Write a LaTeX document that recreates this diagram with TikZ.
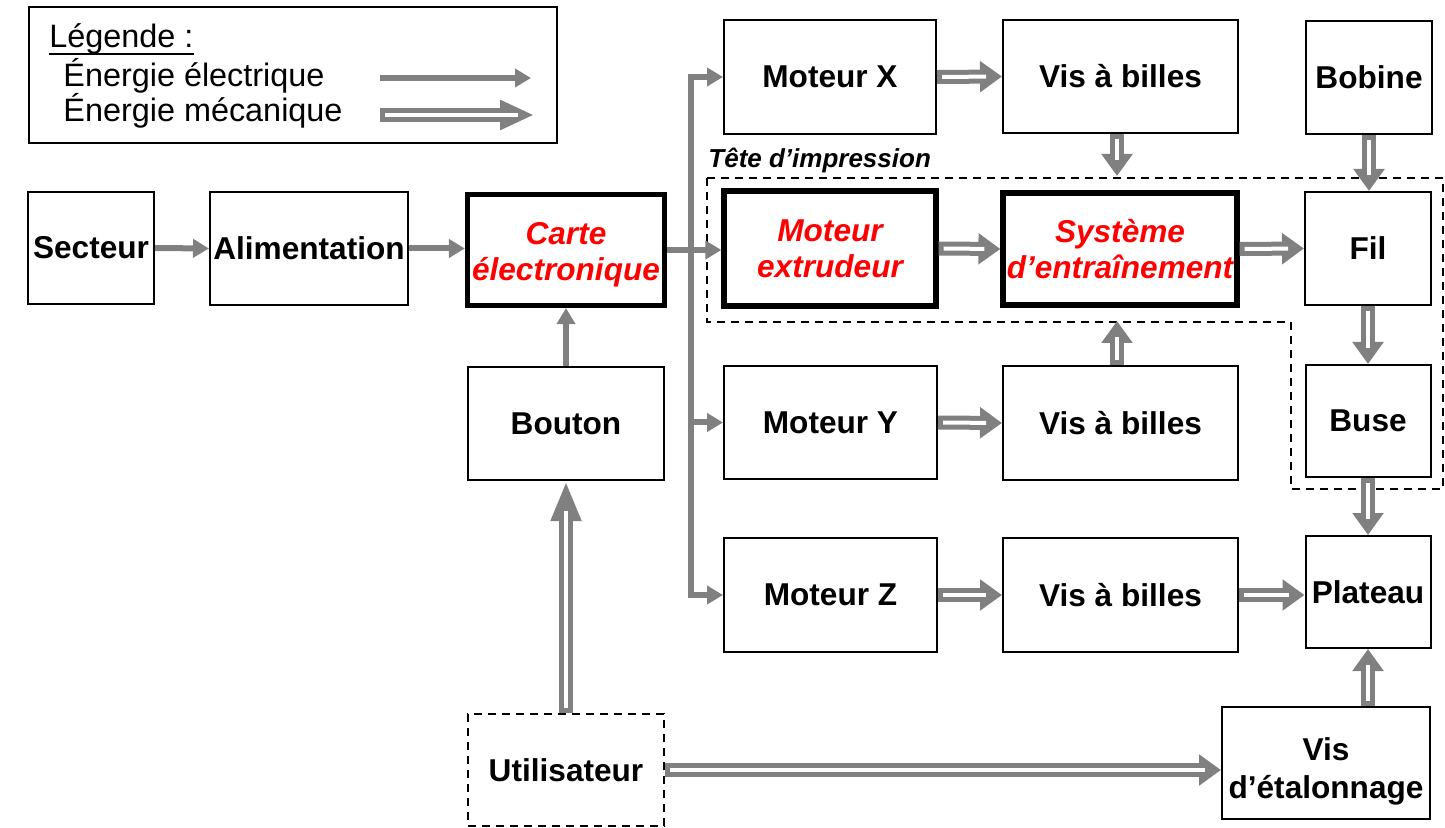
\documentclass[tikz,border=0pt]{standalone}
\usepackage{fontspec}
\setmainfont{Liberation Sans}
\usetikzlibrary{arrows.meta}
\definecolor{ag}{HTML}{808080}
\definecolor{rd}{HTML}{FF0000}
\begin{document}
\begin{tikzpicture}[x=0.5pt,y=-0.5pt,
  box/.style={draw, line width=1pt, inner sep=0pt, align=center, font=\fontsize{15.8}{18}\selectfont\bfseries},
  thickbox/.style={box, line width=2.6pt, text=rd, font=\fontsize{15.8}{18}\selectfont\bfseries\itshape},
  dsh/.style={draw, line width=1pt, dash pattern=on 4pt off 3pt},
  dashbox/.style={box, dsh},
  legtext/.style={anchor=base west, inner sep=0pt, font=\fontsize{16.2}{18}\selectfont},
  elec/.style={draw=ag, line width=3pt, -{Triangle[length=8pt,width=9pt]}},
  mech/.style={draw=ag, line width=7pt, -{Triangle[length=11pt,width=15pt]},
    postaction={draw=white, line width=2pt, -, shorten <=2.5pt, shorten >=8pt}},
  mechL/.style={draw=ag, line width=7pt, -{Triangle[length=20pt,width=14pt]},
    postaction={draw=white, line width=2pt, -, shorten <=2.5pt, shorten >=15pt}},
]
\useasboundingbox (0,0) rectangle (1445,828);

% legend
\node[draw, line width=1pt, minimum width=264pt, minimum height=68pt, inner sep=0pt] (legbox) at (292.5,75) {};
\node[legtext] (leg) at (49,48) {Légende :};
\draw[line width=1.2pt] ([yshift=-3pt]leg.base west) -- ([yshift=-3pt]leg.base east);
\node[legtext] (lel) at (63,87) {Énergie électrique};
\node[legtext] (lme) at (63,122) {Énergie mécanique};
\coordinate (le1) at (380,78);
\coordinate (le2) at (531,78);
\coordinate (lm1) at (380,115);
\coordinate (lm2) at (534,115);
\draw[elec] (le1) -- (le2);
\draw[draw=ag, line width=7pt, -{Triangle[length=17pt,width=14pt]},
    postaction={draw=white, line width=2pt, -, shorten <=2.5pt, shorten >=8pt}] (lm1) -- (lm2);

% boxes
\node[box, minimum width=63pt, minimum height=56pt] (sect) at (91,248) {Secteur};
\node[box, minimum width=99pt, minimum height=56.5pt] (alim) at (309,248.5) {Alimentation};
\node[thickbox, minimum width=98.5pt, minimum height=55.5pt] (carte) at (566,250) {\rule{0pt}{15.5pt}Carte\\électronique};
\node[box, minimum width=98pt, minimum height=56.5pt] (bouton) at (566,423.5) {Bouton};
\node[dashbox, minimum width=98pt, minimum height=56pt] (util) at (566,770) {Utilisateur};

\node[box, minimum width=106pt, minimum height=57pt] (mx) at (830,77) {Moteur X};
\node[box, minimum width=117.5pt, minimum height=56.5pt] (vx) at (1120.5,76.5) {Vis à billes};
\node[box, minimum width=63pt, minimum height=56.5pt] (bob) at (1369,77.5) {Bobine};

\node[thickbox, minimum width=106pt, minimum height=57.5pt] (mext) at (830,248.5) {Moteur\\extrudeur};
\node[thickbox, minimum width=117pt, minimum height=56pt] (sys) at (1120,249) {Système\\d’entraînement};
\node[box, minimum width=63pt, minimum height=56.5pt] (fil) at (1368,248.5) {Fil};

\node[box, minimum width=106.5pt, minimum height=56.5pt] (my) at (830.5,422.5) {Moteur Y};
\node[box, minimum width=117.5pt, minimum height=57pt] (vy) at (1120.5,423) {Vis à billes};
\node[box, minimum width=62.5pt, minimum height=56pt] (buse) at (1368,421) {Buse};

\node[box, minimum width=106.5pt, minimum height=57pt] (mz) at (830.5,595) {Moteur Z};
\node[box, minimum width=117.5pt, minimum height=57pt] (vz) at (1120.5,595) {Vis à billes};
\node[box, minimum width=62.5pt, minimum height=56pt] (plat) at (1368,592) {Plateau};

\node[box, minimum width=104pt, minimum height=56pt] (vise) at (1326,763) {\rule{0pt}{19.5pt}Vis\\[1pt]d’étalonnage};

% print head group
\node[anchor=base west, inner sep=0pt, font=\fontsize{13}{15}\selectfont\bfseries\itshape] (tete) at (708,168) {Tête d’impression};
\draw[dsh] (707,178) -- (1443,178) -- (1443,489) -- (1291,489) -- (1291,322) -- (707,322) -- cycle;

% electrical connectors
\draw[elec] (sect.east) -- (alim.west);
\draw[elec] (alim.east) -- (alim.east -| carte.west);
\draw[elec] (bouton.north) -- (carte.south);
\draw[elec] (carte.east) -- (carte.east -| mext.west);
\coordinate (bus) at (691,250);
\draw[elec] (bus) |- (mx.west);
\draw[elec] (bus) |- (my.west);
\draw[elec] (bus) |- (mz.west);

% mechanical connectors
\coordinate (t1) at (1117,176);
\coordinate (t2) at (1117,321);
\draw[mech] (mx.east) -- (vx.west);
\draw[mech] (vx.south -| t1) -- (t1);
\draw[mech] (bob.south) -- (bob.south |- fil.north);
\draw[mech] (mext.east) -- (sys.west);
\draw[mech] (sys.east) -- (fil.west);
\draw[mech] (fil.south) -- (buse.north);
\draw[mech] (buse.south) -- (plat.north);
\draw[mech] (vy.north -| t2) -- (t2);
\draw[mech] (my.east) -- (vy.west);
\draw[mech] (mz.east) -- (vz.west);
\draw[mech] (vz.east) -- (vz.east -| plat.west);
\draw[mech] (plat.south |- vise.north) -- (plat.south);
\draw[mechL] (util.north) -- (bouton.south);
\draw[mech] (util.east) -- (util.east -| vise.west);
\end{tikzpicture}
\end{document}
